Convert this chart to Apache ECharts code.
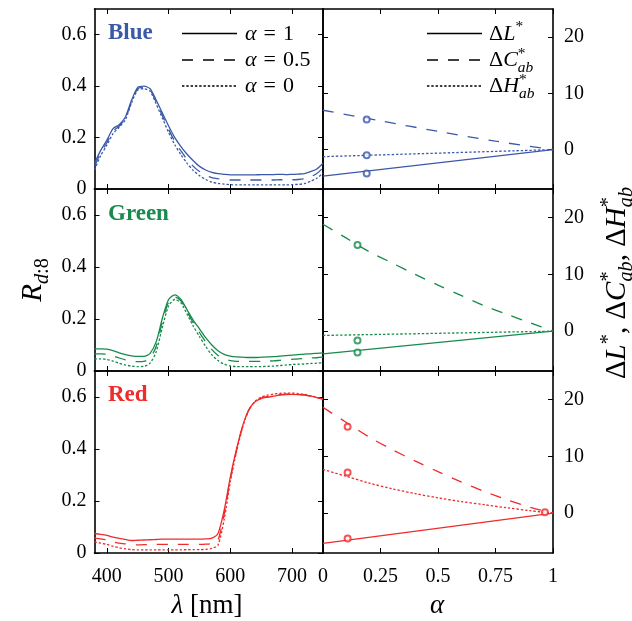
<!DOCTYPE html>
<html><head><meta charset="utf-8">
<script src="https://cdn.jsdelivr.net/npm/echarts@6/dist/echarts.min.js"></script>
<style>html,body{margin:0;padding:0;background:#fff}#c{width:632px;height:621px}</style>
</head><body><div id="c"></div>
<script>
// ---------------- data ----------------
const wavelengths = [380,390,400,410,420,430,440,450,460,470,480,490,500,510,520,530,540,550,560,570,580,590,600,610,620,630,640,650,660,670,680,690,700,710,720,730,740,750];
const blueA1  = [0.10,0.15,0.19,0.235,0.25,0.28,0.345,0.395,0.40,0.39, 0.345,0.295,0.245,0.20,0.165,0.135,0.11,0.088,0.074,0.065, 0.06,0.057,0.055,0.055,0.055,0.055,0.055,0.056,0.056,0.056, 0.057,0.056,0.057,0.058,0.060,0.068,0.078,0.10];
const blueA05 = [0.088,0.14,0.18,0.225,0.245,0.275,0.34,0.39,0.395,0.385, 0.338,0.285,0.232,0.185,0.148,0.115,0.088,0.068,0.053,0.044, 0.04,0.037,0.035,0.035,0.035,0.035,0.035,0.035,0.035,0.035, 0.036,0.036,0.036,0.037,0.04,0.048,0.06,0.082];
const blueA0  = [0.075,0.13,0.17,0.215,0.24,0.27,0.335,0.385,0.39,0.38, 0.33,0.275,0.22,0.172,0.133,0.10,0.072,0.052,0.037,0.027, 0.022,0.019,0.017,0.016,0.016,0.016,0.016,0.016,0.016,0.016, 0.016,0.016,0.017,0.018,0.021,0.03,0.042,0.062];
const greenA1  = [0.085,0.085,0.084,0.078,0.07,0.063,0.058,0.056,0.056,0.068, 0.113,0.204,0.275,0.293,0.275,0.235,0.195,0.162,0.128,0.10, 0.078,0.064,0.057,0.054,0.053,0.052,0.052,0.053,0.054,0.055, 0.057,0.059,0.061,0.063,0.065,0.066,0.068,0.07];
const greenA05 = [0.066,0.066,0.064,0.058,0.05,0.043,0.038,0.036,0.037,0.05, 0.095,0.19,0.265,0.285,0.27,0.228,0.185,0.148,0.112,0.082, 0.06,0.046,0.04,0.037,0.037,0.037,0.037,0.037,0.038,0.039, 0.041,0.043,0.045,0.047,0.048,0.05,0.051,0.053];
const greenA0  = [0.047,0.047,0.044,0.038,0.03,0.023,0.019,0.017,0.018,0.03, 0.075,0.17,0.25,0.275,0.262,0.218,0.172,0.132,0.095,0.062, 0.04,0.026,0.02,0.017,0.017,0.017,0.017,0.017,0.018,0.019, 0.021,0.023,0.025,0.026,0.027,0.029,0.03,0.032];
const redA1  = [0.075,0.072,0.068,0.061,0.056,0.052,0.048,0.049,0.05,0.051, 0.052,0.053,0.053,0.053,0.053,0.053,0.053,0.053,0.054,0.057, 0.075,0.165,0.294,0.40,0.49,0.552,0.582,0.594,0.599,0.603, 0.607,0.609,0.61,0.609,0.607,0.603,0.598,0.592];
const redA05 = [0.057,0.054,0.05,0.043,0.038,0.035,0.031,0.031,0.032,0.032, 0.033,0.033,0.033,0.033,0.033,0.033,0.033,0.033,0.034,0.037, 0.05,0.15,0.285,0.395,0.487,0.55,0.582,0.596,0.602,0.606, 0.609,0.611,0.612,0.61,0.608,0.604,0.598,0.592];
const redA0  = [0.043,0.038,0.033,0.026,0.02,0.016,0.013,0.012,0.012,0.012, 0.012,0.012,0.012,0.012,0.012,0.013,0.013,0.013,0.014,0.018, 0.03,0.13,0.275,0.39,0.485,0.55,0.584,0.60,0.607,0.611, 0.614,0.615,0.615,0.613,0.61,0.605,0.598,0.592];

const alphaEnds = [0, 1];
const alphaQuarter = [0, 0.25, 0.5, 0.75, 1];
const alphaGrid = [0, 0.1, 0.2, 0.3, 0.4, 0.5, 0.6, 0.7, 0.8, 0.9, 1];
const blueDL = [-4.7, 0];
const blueDC = [7.0, 5.1, 3.25, 1.5, 0];
const blueDH = [-1.25, 0];
const blueMarkAlpha = [0.19, 0.19, 0.19];
const blueMarkVal = [5.35, -1.0, -4.25];
const greenDL = [-4.0, 0];
const greenDC = [18.8, 16.4, 14.0, 12.0, 10.0, 8.1, 6.3, 4.5, 2.95, 1.5, 0];
const greenDH = [-0.75, 0];
const greenMarkAlpha = [0.15, 0.15, 0.15];
const greenMarkVal = [15.15, -1.64, -3.76];
const redDL = [-5.3, 0];
const redDC = [18.6, 16.0, 13.4, 11.2, 9.2, 7.3, 5.5, 3.85, 2.35, 1.05, 0];
const redDH = [7.7, 6.5, 5.3, 4.3, 3.45, 2.7, 2.05, 1.5, 0.95, 0.45, 0];
const redMarkAlpha = [0.107, 0.107, 0.107, 0.965];
const redMarkVal = [15.2, 7.15, -4.46, 0.15];

const lambdaTicks = [400, 500, 600, 700];
const reflTicks = [0, 0.2, 0.4, 0.6];
const alphaTicks = [0, 0.25, 0.5, 0.75, 1];
const deltaTicks = [0, 10, 20];
const panelNames = ['Blue', 'Green', 'Red'];
const colors = ['#3a5aa8', '#178a4c', '#ee2c2c'];

// --------------- layout ---------------
const FONT = '"Liberation Serif", "DejaVu Serif", serif';
const rowTop = [9, 189, 371];
const rowH = [180, 182, 182];
const colLeft = [94.5, 323];
const colW = [228.5, 230];
const DASH = [11, 10];
const DOT = [2.4, 1.9];

const chart = echarts.init(document.getElementById('c'), null, {renderer: 'canvas'});

const grids = [], xAxes = [], yAxes = [], series = [];
const lineCol = '#000';
function axisBase(extra) {
  return Object.assign({
    axisLine: {show: true, onZero: false, lineStyle: {color: lineCol, width: 1.6}},
    splitLine: {show: false},
  }, extra);
}
function tickCfg(vals) {
  return {show: true, inside: true, length: 5, customValues: vals, lineStyle: {color: lineCol, width: 1}};
}
function labelCfg(show, vals, margin) {
  return {show: show, customValues: vals, margin: margin, color: '#000', fontSize: 20, fontFamily: FONT};
}

for (let r = 0; r < 3; r++) {
  for (let c = 0; c < 2; c++) {
    const g = grids.length;
    grids.push({left: colLeft[c], top: rowTop[r], width: colW[c], height: rowH[r], containLabel: false});
    const isLeft = c === 0;
    const xmin = isLeft ? 380 : 0, xmax = isLeft ? 750 : 1;
    const xt = isLeft ? lambdaTicks : alphaTicks;
    xAxes.push(axisBase({type: 'value', gridIndex: g, position: 'bottom', min: xmin, max: xmax,
      axisTick: tickCfg(xt), axisLabel: labelCfg(r === 2, xt, 14)}));
    xAxes.push(axisBase({type: 'value', gridIndex: g, position: 'top', min: xmin, max: xmax,
      axisTick: tickCfg(xt), axisLabel: {show: false}}));
    const ymin = isLeft ? 0 : -7, ymax = isLeft ? 0.7 : 25;
    const yt = isLeft ? reflTicks : deltaTicks;
    yAxes.push(axisBase({type: 'value', gridIndex: g, position: isLeft ? 'left' : 'right', min: ymin, max: ymax,
      axisTick: tickCfg(yt), axisLabel: labelCfg(true, yt, isLeft ? 8 : 11)}));
    yAxes.push(axisBase({type: 'value', gridIndex: g, position: isLeft ? 'right' : 'left', min: ymin, max: ymax,
      axisTick: tickCfg(yt), axisLabel: {show: false}}));
  }
}

function lineSeries(g, xs, ys, color, type, smooth) {
  return {type: 'line', xAxisIndex: 2 * g, yAxisIndex: 2 * g, showSymbol: false, symbol: 'none',
    smooth: smooth, silent: true, animation: false, clip: true,
    data: xs.map((x, i) => [x, ys[i]]),
    lineStyle: {color: color, width: 1.3, type: type}};
}
function markSeries(g, xs, ys, color) {
  return {type: 'scatter', xAxisIndex: 2 * g, yAxisIndex: 2 * g, symbol: 'emptyCircle', symbolSize: 6,
    animation: false, silent: true, z: 5,
    data: xs.map((x, i) => [x, ys[i]]),
    itemStyle: {color: color, borderColor: color, borderWidth: 1.2}};
}

const spectra = [[blueA1, blueA05, blueA0], [greenA1, greenA05, greenA0], [redA1, redA05, redA0]];
const deltas = [
  {L: [alphaEnds, blueDL], C: [alphaQuarter, blueDC], H: [alphaEnds, blueDH], M: [blueMarkAlpha, blueMarkVal]},
  {L: [alphaEnds, greenDL], C: [alphaGrid, greenDC], H: [alphaEnds, greenDH], M: [greenMarkAlpha, greenMarkVal]},
  {L: [alphaEnds, redDL], C: [alphaGrid, redDC], H: [alphaGrid, redDH], M: [redMarkAlpha, redMarkVal]},
];
for (let r = 0; r < 3; r++) {
  const col = colors[r];
  const gl = 2 * r, gr = 2 * r + 1;
  series.push(lineSeries(gl, wavelengths, spectra[r][0], col, 'solid', 0.25));
  series.push(lineSeries(gl, wavelengths, spectra[r][1], col, DASH, 0.25));
  series.push(lineSeries(gl, wavelengths, spectra[r][2], col, DOT, 0.25));
  const d = deltas[r];
  series.push(lineSeries(gr, d.L[0], d.L[1], col, 'solid', 0.3));
  series.push(lineSeries(gr, d.C[0], d.C[1], col, DASH, 0.3));
  series.push(lineSeries(gr, d.H[0], d.H[1], col, DOT, 0.3));
  series.push(markSeries(gr, d.M[0], d.M[1], col));
}

// --------------- math text helper ---------------
const mctx = document.createElement('canvas').getContext('2d');
function fontStr(size, italic, bold) {
  return (italic ? 'italic ' : '') + (bold ? 'bold ' : '') + size + 'px ' + FONT;
}
function measure(t, size, italic, bold) { mctx.font = fontStr(size, italic, bold); return mctx.measureText(t).width; }
// pieces: {t, i: italic, b: bold, p: 0 base | 1 sup | -1 sub, adv: advance?, dx}
function mathGroup(x, y, rot, base, pieces, align, color) {
  let cx = 0; const kids = [];
  pieces.forEach(p => {
    const pos = p.p || 0;
    const s = pos ? base * 0.7 : base;
    const w = measure(p.t, s, p.i, p.b);
    const by = pos === 1 ? -base * 0.40 : pos === -1 ? base * 0.25 : 0;
    const px = cx + (p.dx || 0);
    kids.push({type: 'text', x: px, y: by - 0.3 * s, silent: true,
      style: {text: p.t, fontSize: s, fontFamily: FONT, fontStyle: p.i ? 'italic' : 'normal', fontWeight: p.b ? 'bold' : 'normal',
        fill: color || '#000', align: 'left', verticalAlign: 'middle', textAlign: 'left', textVerticalAlign: 'middle'}});
    if (p.adv !== false) cx = px + w;
  });
  if (align === 'center') kids.forEach(k => { k.x -= cx / 2; });
  return {type: 'group', x: x, y: y, rotation: rot, children: kids};
}

const graphics = [];
// panel names
const nameY = [40, 221, 402];
for (let r = 0; r < 3; r++) {
  graphics.push(mathGroup(108, nameY[r], 0, 23, [{t: panelNames[r], b: true}], 'left', colors[r]));
}
// legends (top row)
const legY = [33.5, 60, 86];
const legTypes = [null, DASH, DOT];
const legA = [
  [{t: 'α', i: true}, {t: '=', dx: 7}, {t: '1', dx: 7}],
  [{t: 'α', i: true}, {t: '=', dx: 7}, {t: '0.5', dx: 7}],
  [{t: 'α', i: true}, {t: '=', dx: 7}, {t: '0', dx: 7}]];
const legD = [
  [{t: 'Δ'}, {t: 'L', i: true}, {t: '*', p: 1}],
  [{t: 'Δ'}, {t: 'C', i: true}, {t: '*', p: 1, adv: false}, {t: 'ab', i: true, p: -1}],
  [{t: 'Δ'}, {t: 'H', i: true}, {t: '*', p: 1, adv: false}, {t: 'ab', i: true, p: -1}],
];
for (let k = 0; k < 3; k++) {
  const st = {stroke: '#000', lineWidth: 1.3};
  if (legTypes[k]) st.lineDash = legTypes[k];
  graphics.push({type: 'line', silent: true, shape: {x1: 182, y1: legY[k], x2: 237, y2: legY[k]}, style: Object.assign({}, st)});
  graphics.push({type: 'line', silent: true, shape: {x1: 427, y1: legY[k], x2: 482, y2: legY[k]}, style: Object.assign({}, st)});
  graphics.push(mathGroup(245, legY[k] + 7, 0, 22, legA[k], 'left'));
  graphics.push(mathGroup(489, legY[k] + 7, 0, 22, legD[k], 'left'));
}
// axis titles
graphics.push(mathGroup(207, 614, 0, 27, [{t: 'λ', i: true}, {t: ' [nm]'}], 'center'));
graphics.push(mathGroup(437, 614, 0, 27, [{t: 'α', i: true}], 'center'));
graphics.push(mathGroup(42, 280, Math.PI / 2, 29, [{t: 'R', i: true}, {t: 'd', i: true, p: -1}, {t: ':8', p: -1}], 'center'));
graphics.push(mathGroup(626, 283, Math.PI / 2, 29, [
  {t: 'Δ'}, {t: 'L', i: true}, {t: '*', p: 1}, {t: ', '},
  {t: 'Δ'}, {t: 'C', i: true}, {t: '*', p: 1, adv: false}, {t: 'ab', i: true, p: -1}, {t: ', '},
  {t: 'Δ'}, {t: 'H', i: true}, {t: '*', p: 1, adv: false}, {t: 'ab', i: true, p: -1}
], 'center'));

chart.setOption({
  animation: false,
  backgroundColor: '#fff',
  grid: grids,
  xAxis: xAxes,
  yAxis: yAxes,
  series: series,
  graphic: {elements: graphics}
});
</script>
</body></html>
